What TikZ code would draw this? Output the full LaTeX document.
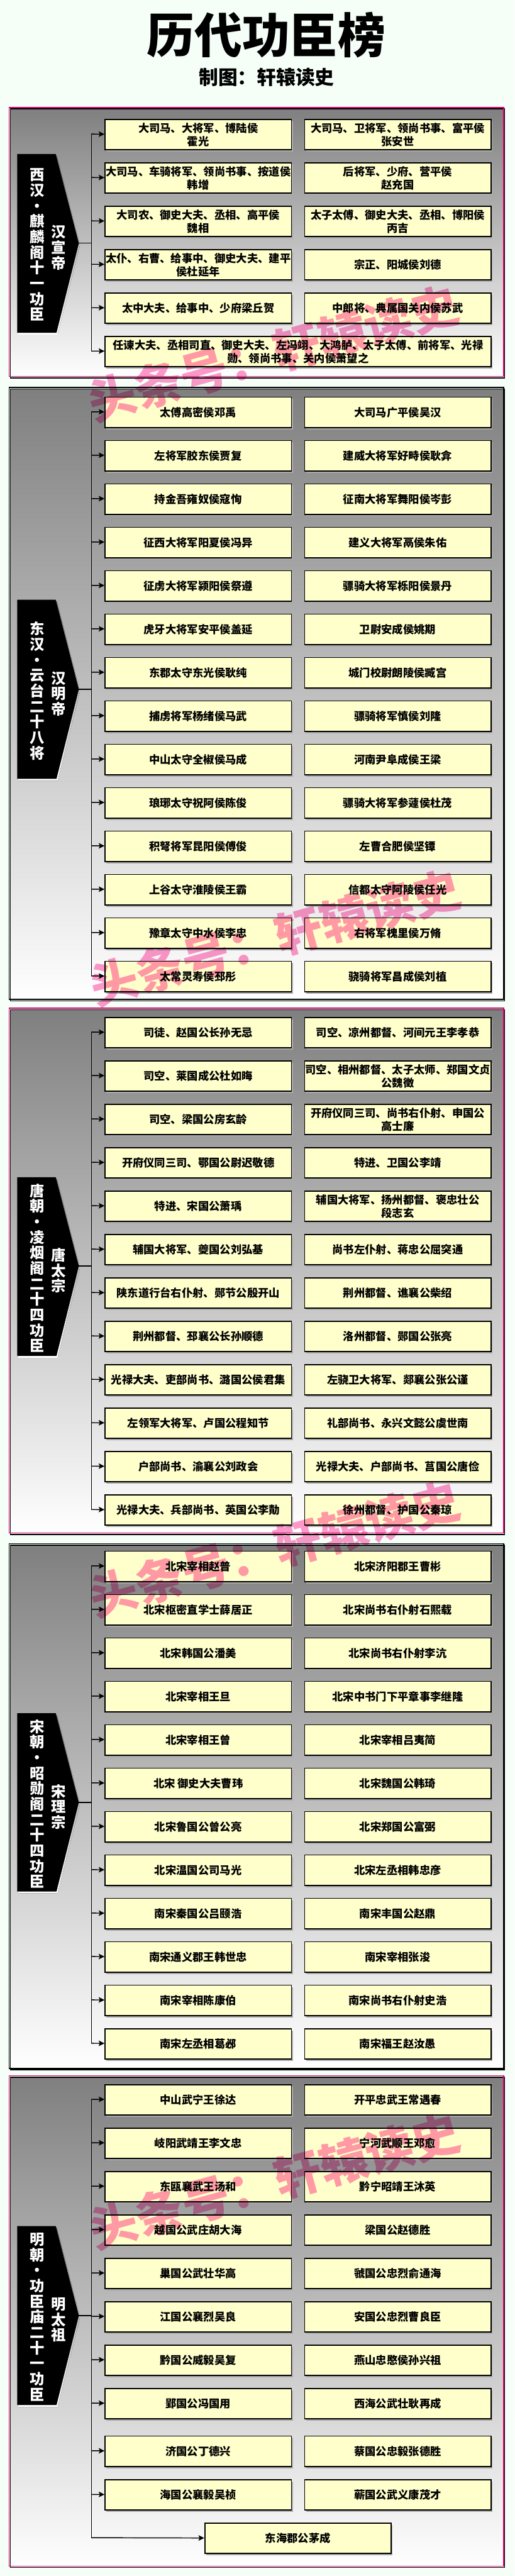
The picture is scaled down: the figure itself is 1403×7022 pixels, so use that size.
\documentclass[tikz,border=0pt]{standalone}
\usepackage{fontspec}
\newfontfamily\cjk{Noto Sans CJK SC}
\usetikzlibrary{arrows.meta,shadows}
\definecolor{bg}{HTML}{F5FFF8}
\definecolor{boxfill}{HTML}{FFFFCC}
\definecolor{framepink}{HTML}{D4006E}
\definecolor{wm}{HTML}{FF99CC}
\definecolor{shade}{HTML}{AAAAAA}
\tikzset{
  person/.style={draw=black, line width=0.3mm, fill=boxfill, minimum width=50.8mm, minimum height=8.3mm,
    inner sep=0pt, align=center, anchor=north west, text=black,
    font=\cjk\bfseries\fontsize{8.45pt}{10.13pt}\selectfont,
    drop shadow={shadow xshift=0.4mm, shadow yshift=-0.5mm, fill=shade, opacity=1}},
  link/.style={draw=black, line width=0.25mm, -{Stealth[length=1.6mm,width=1.5mm,inset=0.35mm]}},
  trunk/.style={draw=black, line width=0.25mm},
  vlabel/.style={text=white, align=center, inner sep=0pt, font=\cjk\bfseries\fontsize{11.4pt}{12.03pt}\selectfont},
  secframe/.style={line width=0.27mm},
  watermark/.style={text=wm, inner sep=0pt, rotate=15.3, font=\cjk\bfseries\fontsize{37pt}{37pt}\selectfont},
}
\newcommand\prow[4]{%
  \node[person] (#1l) at (285,#2) {#3};
  \node[person] (#1r) at (829,#2) {#4};
  \coordinate (#1j) at (249,#2+41.5);
  \draw[link] (#1j) -- (#1l);}
\newcommand\plaque[6]{%
  \fill[shade, shift={(3,5)}] (47,#2) -- (152,#2) -- (215,#4) -- (154,#3) -- (47,#3) -- cycle;
  \fill[black] (47,#2) -- (152,#2) -- (215,#4) -- (154,#3) -- (47,#3) -- cycle;
  \coordinate (#1tip) at (215,#4);
  \coordinate (#1k) at (249,#4);
  \draw[trunk] (#1tip) -- (#1k);
  \node[vlabel] (#1n1) at (101,{(#2+#3)/2+4}) {#5};
  \node[vlabel] (#1n2) at (159,{#4+12}) {#6};}
\newcommand\secbox[3]{%
  \draw[secframe, shade] (28,{#1+4}) rectangle (1376,{#2+4});
  \draw[secframe, #3] (25,#1) rectangle (1373,#2);}
\begin{document}
\begin{tikzpicture}[x=0.1mm, y=-0.1mm]
\fill[bg] (0,0) rectangle (1403,7022);
\useasboundingbox (0,0) rectangle (1403,7022);

\node[inner sep=0pt, font=\cjk\bfseries\fontsize{37pt}{37pt}\selectfont] (title) at (726,96) {历代功臣榜};
\node[inner sep=0pt, font=\cjk\bfseries\fontsize{15pt}{15pt}\selectfont] (credit) at (727,211) {制图：轩辕读史};

% ===== Section 1 =====
\secbox{293}{1026}{framepink}
\plaque{p1}{420}{907}{663}{西\\汉\\·\\麒\\麟\\阁\\十\\一\\功\\臣}{汉\\宣\\帝}
\prow{a1}{324}{大司马、大将军、博陆侯\\霍光}{大司马、卫将军、领尚书事、富平侯\\张安世}
\prow{a2}{442.3}{大司马、车骑将军、领尚书事、按道侯\\韩增}{后将军、少府、营平侯\\赵充国}
\prow{a3}{560.6}{大司农、御史大夫、丞相、高平侯\\魏相}{太子太傅、御史大夫、丞相、博阳侯\\丙吉}
\prow{a4}{678.9}{太仆、右曹、给事中、御史大夫、建平\\侯杜延年}{宗正、阳城侯刘德}
\prow{a5}{797.2}{太中大夫、给事中、少府梁丘贺}{中郎将、典属国关内侯苏武}
\node[person, minimum width=105.2mm] (a6l) at (285,915.5) {任谏大夫、丞相司直、御史大夫、左冯翊、大鸿胪、太子太傅、前将军、光禄\\勋、领尚书事、关内侯萧望之};
\coordinate (a6j) at (249,957);
\draw[link] (a6j) -- (a6l);
\draw[trunk] (a1j) -- (a6j);

% ===== Section 2 =====
\secbox{1056}{2724}{black}
\plaque{p2}{1635}{2123}{1879}{东\\汉\\·\\云\\台\\二\\十\\八\\将}{汉\\明\\帝}
\prow{b1}{1081}{太傅高密侯邓禹}{大司马广平侯吴汉}
\prow{b2}{1199.3}{左将军胶东侯贾复}{建威大将军好畤侯耿弇}
\prow{b3}{1317.6}{持金吾雍奴侯寇恂}{征南大将军舞阳侯岑彭}
\prow{b4}{1435.9}{征西大将军阳夏侯冯异}{建义大将军鬲侯朱佑}
\prow{b5}{1554.2}{征虏大将军颍阳侯祭遵}{骠骑大将军栎阳侯景丹}
\prow{b6}{1672.5}{虎牙大将军安平侯盖延}{卫尉安成侯姚期}
\prow{b7}{1790.8}{东郡太守东光侯耿纯}{城门校尉朗陵侯臧宫}
\prow{b8}{1909.1}{捕虏将军杨绪侯马武}{骠骑将军慎侯刘隆}
\prow{b9}{2027.4}{中山太守全椒侯马成}{河南尹阜成侯王梁}
\prow{b10}{2145.7}{琅琊太守祝阿侯陈俊}{骠骑大将军参蘧侯杜茂}
\prow{b11}{2264}{积弩将军昆阳侯傅俊}{左曹合肥侯坚镡}
\prow{b12}{2382.3}{上谷太守淮陵侯王霸}{信都太守阿陵侯任光}
\prow{b13}{2500.6}{豫章太守中水侯李忠}{右将军槐里侯万脩}
\prow{b14}{2618.9}{太常灵寿侯邳彤}{骁骑将军昌成侯刘植}
\draw[trunk] (b1j) -- (b14j);

% ===== Section 3 =====
\secbox{2748}{4179}{framepink}
\plaque{p3}{3209}{3696}{3451}{唐\\朝\\·\\凌\\烟\\阁\\二\\十\\四\\功\\臣}{唐\\太\\宗}
\prow{c1}{2772}{司徒、赵国公长孙无忌}{司空、凉州都督、河间元王李孝恭}
\prow{c2}{2890.3}{司空、莱国成公杜如晦}{司空、相州都督、太子太师、郑国文贞\\公魏徵}
\prow{c3}{3008.6}{司空、梁国公房玄龄}{开府仪同三司、尚书右仆射、申国公\\高士廉}
\prow{c4}{3126.9}{开府仪同三司、鄂国公尉迟敬德}{特进、卫国公李靖}
\prow{c5}{3245.2}{特进、宋国公萧瑀}{辅国大将军、扬州都督、褒忠壮公\\段志玄}
\prow{c6}{3363.5}{辅国大将军、夔国公刘弘基}{尚书左仆射、蒋忠公屈突通}
\prow{c7}{3481.8}{陕东道行台右仆射、郧节公殷开山}{荆州都督、谯襄公柴绍}
\prow{c8}{3600.1}{荆州都督、邳襄公长孙顺德}{洛州都督、郧国公张亮}
\prow{c9}{3718.4}{光禄大夫、吏部尚书、潞国公侯君集}{左骁卫大将军、郯襄公张公谨}
\prow{c10}{3836.7}{左领军大将军、卢国公程知节}{礼部尚书、永兴文懿公虞世南}
\prow{c11}{3955}{户部尚书、渝襄公刘政会}{光禄大夫、户部尚书、莒国公唐俭}
\prow{c12}{4073.3}{光禄大夫、兵部尚书、英国公李勣}{徐州都督、护国公秦琼}
\draw[trunk] (c1j) -- (c12j);

% ===== Section 4 =====
\secbox{4208}{5638}{black}
\plaque{p4}{4670}{5156}{4913}{宋\\朝\\·\\昭\\勋\\阁\\二\\十\\四\\功\\臣}{宋\\理\\宗}
\prow{d1}{4227}{北宋宰相赵普}{北宋济阳郡王曹彬}
\prow{d2}{4345.3}{北宋枢密直学士薛居正}{北宋尚书右仆射石熙载}
\prow{d3}{4463.6}{北宋韩国公潘美}{北宋尚书右仆射李沆}
\prow{d4}{4581.9}{北宋宰相王旦}{北宋中书门下平章事李继隆}
\prow{d5}{4700.2}{北宋宰相王曾}{北宋宰相吕夷简}
\prow{d6}{4818.5}{北宋 御史大夫曹玮}{北宋魏国公韩琦}
\prow{d7}{4936.8}{北宋鲁国公曾公亮}{北宋郑国公富弼}
\prow{d8}{5055.1}{北宋温国公司马光}{北宋左丞相韩忠彦}
\prow{d9}{5173.4}{南宋秦国公吕颐浩}{南宋丰国公赵鼎}
\prow{d10}{5291.7}{南宋通义郡王韩世忠}{南宋宰相张浚}
\prow{d11}{5410}{南宋宰相陈康伯}{南宋尚书右仆射史浩}
\prow{d12}{5528.3}{南宋左丞相葛邲}{南宋福王赵汝愚}
\draw[trunk] (d1j) -- (d12j);

% ===== Section 5 =====
\secbox{5658}{6995}{framepink}
\plaque{p5}{6068}{6556}{6312}{明\\朝\\·\\功\\臣\\庙\\二\\十\\一\\功\\臣}{明\\太\\祖}
\prow{e1}{5681}{中山武宁王徐达}{开平忠武王常遇春}
\prow{e2}{5799.3}{岐阳武靖王李文忠}{宁河武顺王邓愈}
\prow{e3}{5917.6}{东瓯襄武王汤和}{黔宁昭靖王沐英}
\prow{e4}{6035.9}{越国公武庄胡大海}{梁国公赵德胜}
\prow{e5}{6154.2}{巢国公武壮华高}{虢国公忠烈俞通海}
\prow{e6}{6272.5}{江国公襄烈吴良}{安国公忠烈曹良臣}
\prow{e7}{6390.8}{黔国公威毅吴复}{燕山忠愍侯孙兴祖}
\prow{e8}{6509.1}{郢国公冯国用}{西海公武壮耿再成}
\prow{e9}{6639}{济国公丁德兴}{蔡国公忠毅张德胜}
\prow{e10}{6758}{海国公襄毅吴桢}{蕲国公武义康茂才}
\node[person] (e11l) at (557,6876) {东海郡公茅成};
\coordinate (e11j) at (249,6917.5);
\draw[link] (e11j) -- (e11l);
\draw[trunk] (e1j) -- (e11j);

% ===== watermarks =====
\begin{scope}[blend mode=multiply]
\node[watermark] (wm1) at (745,964) {头条号：轩辕读史};
\node[watermark] (wm2) at (750,2556) {头条号：轩辕读史};
\node[watermark] (wm3) at (749,4223) {头条号：轩辕读史};
\node[watermark] (wm4) at (749,5945) {头条号：轩辕读史};
\end{scope}
\end{tikzpicture}
\end{document}
